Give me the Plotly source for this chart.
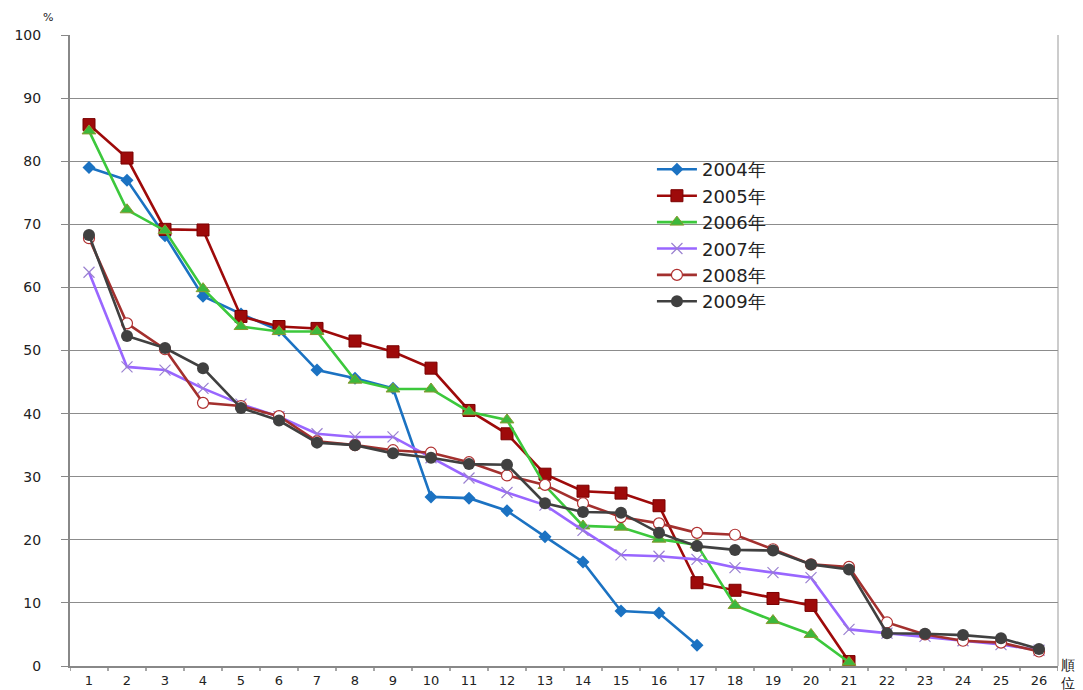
import plotly.graph_objects as go

ranks = list(range(1, 27))
rank_labels = [str(r) for r in ranks]

y2004 = [79.0, 77.0, 68.2, 58.6, 55.8, 53.2, 46.9, 45.6, 44.0, 26.8, 26.6, 24.6, 20.5, 16.5, 8.7, 8.4, 3.3]
y2005 = [85.8, 80.5, 69.2, 69.1, 55.4, 53.8, 53.5, 51.5, 49.8, 47.2, 40.5, 36.8, 30.4, 27.7, 27.4, 25.4, 13.2, 12.0, 10.7, 9.6, 0.7]
y2006 = [84.8, 72.3, 69.0, 59.8, 53.8, 53.0, 53.0, 45.3, 43.9, 43.9, 40.3, 39.0, 28.6, 22.2, 22.0, 20.1, 19.2, 9.6, 7.2, 5.0, 0.6]
y2007 = [62.4, 47.4, 46.9, 44.0, 41.5, 39.5, 36.8, 36.3, 36.3, 33.0, 29.8, 27.5, 25.5, 21.5, 17.6, 17.4, 16.9, 15.6, 14.8, 14.0, 5.8, 5.2, 4.7, 4.0, 3.4, 2.5]
y2008 = [67.8, 54.3, 50.2, 41.7, 41.2, 39.6, 35.6, 35.0, 34.2, 33.8, 32.3, 30.2, 28.7, 25.8, 23.6, 22.6, 21.1, 20.8, 18.5, 16.1, 15.7, 6.9, 5.0, 4.0, 3.7, 2.3]
y2009 = [68.3, 52.3, 50.4, 47.2, 40.9, 38.9, 35.4, 35.0, 33.7, 33.0, 32.0, 31.9, 25.8, 24.4, 24.3, 21.1, 19.0, 18.4, 18.3, 16.1, 15.3, 5.2, 5.1, 4.9, 4.4, 2.7]

series = [
    ("2004年", y2004, "#1B72C2", dict(symbol="diamond", size=10, color="#1B72C2")),
    ("2005年", y2005, "#9E0A0A", dict(symbol="square", size=12, color="#9E0A0A", line=dict(color="#7A0000", width=1))),
    ("2006年", y2006, "#3CC83C", dict(symbol="triangle-up", size=12, color="#3CB83C", line=dict(color="#8A9A30", width=1))),
    ("2007年", y2007, "#9966FF", dict(symbol="x-thin-open", size=11, color="#9A80D0", line=dict(color="#9A80D0", width=1.2))),
    ("2008年", y2008, "#A3302E", dict(symbol="circle", size=11, color="white", line=dict(color="#B03030", width=1.2))),
    ("2009年", y2009, "#404040", dict(symbol="circle", size=12, color="#404040")),
]

fig = go.Figure()
for name, ys, col, mk in series:
    fig.add_trace(go.Scatter(
        x=ranks[:len(ys)], y=ys, name=name, mode="lines+markers",
        line=dict(color=col, width=2.6), marker=mk,
    ))

fig.update_layout(
    width=1083, height=690,
    margin=dict(l=70, r=25, t=35, b=24),
    paper_bgcolor="white", plot_bgcolor="white",
    font=dict(family="DejaVu Sans", size=14, color="#222"),
    showlegend=True,
    legend=dict(x=0.589, y=0.816, xanchor="left", yanchor="top",
                bgcolor="rgba(0,0,0,0)", font=dict(size=18, color="#222"),
                tracegroupgap=0, itemwidth=40),
)
fig.update_xaxes(
    range=[0.5, 26.5], tickmode="array", tickvals=ranks, ticktext=rank_labels,
    showgrid=False, showline=True, linecolor="#888", linewidth=2,
    ticks="", automargin=False, zeroline=False, ticklabelstandoff=1,
    tickfont=dict(size=13),
)
# boundary tick marks between categories
for i in range(27):
    fig.add_shape(type="line", xref="x", yref="paper", x0=0.5 + i, x1=0.5 + i,
                  y0=0, y1=-0.008, line=dict(color="#888", width=1.5))
fig.update_yaxes(
    range=[0, 100], tickvals=list(range(0, 101, 10)),
    showgrid=True, gridcolor="#8C8C8C", gridwidth=1.2,
    showline=True, linecolor="#888", linewidth=2,
    ticks="outside", ticklen=7, tickcolor="#888",
    automargin=False, zeroline=False, ticklabelstandoff=17,
)
fig.add_shape(type="line", xref="paper", yref="paper", x0=1, x1=1, y0=0, y1=1,
              line=dict(color="#999", width=1))
fig.add_annotation(text="%", xref="paper", yref="paper", x=-0.0223, y=1.027,
                   showarrow=False, font=dict(size=11, color="#222"), xanchor="center", yanchor="middle")
fig.add_annotation(text="順<br>位", xref="paper", yref="paper", x=1.0101, y=-0.0127,
                   showarrow=False, font=dict(size=14, color="#111"), xanchor="center", yanchor="middle",
                   align="center")

fig.write_html("out.html", config={"displayModeBar": False},
               post_script="document.body.style.margin='0';document.body.style.overflow='hidden';")
